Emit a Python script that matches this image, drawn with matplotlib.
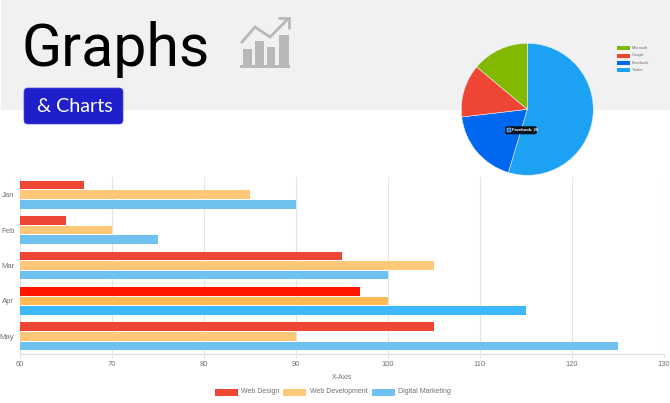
import matplotlib
matplotlib.use("Agg")
import matplotlib.pyplot as plt
from matplotlib.patches import Rectangle, FancyBboxPatch

W, H = 670, 403

months = ["Jan", "Feb", "Mar", "Apr", "May"]
web_design = [67, 65, 95, 97, 105]
web_development = [85, 70, 105, 100, 90]
digital_marketing = [90, 75, 100, 115, 125]
x_ticks = [60, 70, 80, 90, 100, 110, 120, 130]
series_names = ["Web Design", "Web Development", "Digital Marketing"]

pie_labels = ["Twitter", "Facebook", "Google", "Microsoft"]
pie_values = [59, 20, 14, 15]

C_RED, C_ORANGE, C_BLUE = "#EE4535", "#FEC878", "#6FC1F0"
HOVER = ["#FF1500", "#FFBA55", "#3DB8FF"]
PIE_COLORS = ["#1DA1F2", "#0068F0", "#EE4535", "#82B800"]
TXT = "#707070"
FONT = "Liberation Sans"


def box(x0, y0, x1, y1):
    return [x0 / W, 1 - y1 / H, (x1 - x0) / W, (y1 - y0) / H]


fig = plt.figure(figsize=(W / 100, H / 100), dpi=100, facecolor="white")

# page layer, in pixel coordinates
bg = fig.add_axes([0, 0, 1, 1], zorder=0)
bg.set_xlim(0, W)
bg.set_ylim(H, 0)
bg.axis("off")
bg.add_patch(Rectangle((1, 0), W, 109.5, fc="#F1F1F1", ec="none"))
bg.text(21.5, 66.5, "Graphs", family="Roboto", fontsize=42.5, color="black", va="baseline", ha="left")
bg.add_patch(FancyBboxPatch((26, 90), 95, 32, boxstyle="round,pad=2,rounding_size=4",
                            fc="#1F1FCC", ec="#4A4AD8", lw=0.5))
bg.text(37, 112, "& Charts", family="Lato", fontsize=14.2, color="white", va="baseline", ha="left")

# icon
ICON = "#B8B8B8"
for x0, x1, y0 in [(243, 252, 49), (255, 263.5, 41), (267, 275, 47), (278.5, 289, 35)]:
    bg.add_patch(Rectangle((x0, y0), x1 - x0, 65 - y0, fc=ICON, ec="none"))
bg.add_patch(Rectangle((240, 65), 50, 2.5, fc=ICON, ec="none"))
bg.plot([242, 255, 270, 287], [42, 27, 37, 20], color=ICON, lw=2.0, solid_joinstyle="miter")
bg.plot([278, 289, 289], [18.3, 18.3, 29], color=ICON, lw=2.0, solid_joinstyle="miter",
        solid_capstyle="butt")

# bar chart
ax = fig.add_axes(box(20, 177, 663.5, 354), zorder=1)
ax.patch.set_alpha(0)
step, thick = 0.27, 0.24
for j, (vals, col) in enumerate(zip([web_design, web_development, digital_marketing],
                                    [C_RED, C_ORANGE, C_BLUE])):
    for i, v in enumerate(vals):
        c = HOVER[j] if months[i] == "Apr" else col
        ax.barh(i + (j - 1) * step, v - x_ticks[0], left=x_ticks[0], height=thick, color=c, zorder=3)
    bg.add_patch(Rectangle(([214.5, 283, 372][j], 389), 23, 7, fc=col, ec="none"))
    bg.text([241, 310, 398][j], 391.8, series_names[j], family=FONT, fontsize=5.0, color=TXT,
            va="center", ha="left")
ax.set_xlim(x_ticks[0], x_ticks[-1])
ax.set_ylim(4.5, -0.5)
ax.set_xticks(x_ticks)
ax.set_yticks(range(len(months)), months)
ax.grid(axis="x", color="#E4E4E4", lw=0.8, zorder=0)
ax.set_axisbelow(True)
for s in ["top", "right"]:
    ax.spines[s].set_visible(False)
for s in ["left", "bottom"]:
    ax.spines[s].set_color("#E0E0E0")
    ax.spines[s].set_linewidth(0.8)
ax.tick_params(axis="x", length=3, color="#E4E4E4", labelsize=5.4, labelcolor=TXT, pad=2)
ax.tick_params(axis="y", length=0, labelsize=5.6, labelcolor=TXT, pad=4)
for t in ax.get_xticklabels() + ax.get_yticklabels():
    t.set_family(FONT)
ax.set_xlabel("X-Axis", family=FONT, fontsize=5.0, color=TXT, labelpad=4.5)

# pie
pax = fig.add_axes(box(527.3 - 66, 109.3 - 66, 527.3 + 66, 109.3 + 66), zorder=2)
pax.pie(pie_values, colors=PIE_COLORS, startangle=90, counterclock=False, radius=1,
        wedgeprops=dict(edgecolor="#E8F0F8", linewidth=0.4))
pax.set_xlim(-1, 1)
pax.set_ylim(-1, 1)

# top layer: pie legend and tooltip
top = fig.add_axes([0, 0, 1, 1], zorder=3)
top.set_xlim(0, W)
top.set_ylim(H, 0)
top.axis("off")
for name, y in zip(["Microsoft", "Google", "Facebook", "Twitter"], [48, 55.5, 62.7, 70]):
    col = PIE_COLORS[pie_labels.index(name)]
    top.add_patch(Rectangle((617, y - 2), 13, 4, fc=col, ec="none"))
    top.text(632, y - 0.2, name, family=FONT, fontsize=2.9, color=TXT, va="center", ha="left")
top.add_patch(FancyBboxPatch((506, 127), 30, 6.5, boxstyle="round,pad=0.8,rounding_size=2",
                             fc="#0A1420", ec="none"))
top.add_patch(Rectangle((506.5, 128), 4, 4, fc="#1F6FE8", ec="white", lw=0.3))
top.text(511.5, 130, f"{pie_labels[1]}: {pie_values[1]}", family=FONT, fontsize=3, weight="bold",
         color="white", va="center", ha="left")

fig.savefig("out.png", dpi=100)
